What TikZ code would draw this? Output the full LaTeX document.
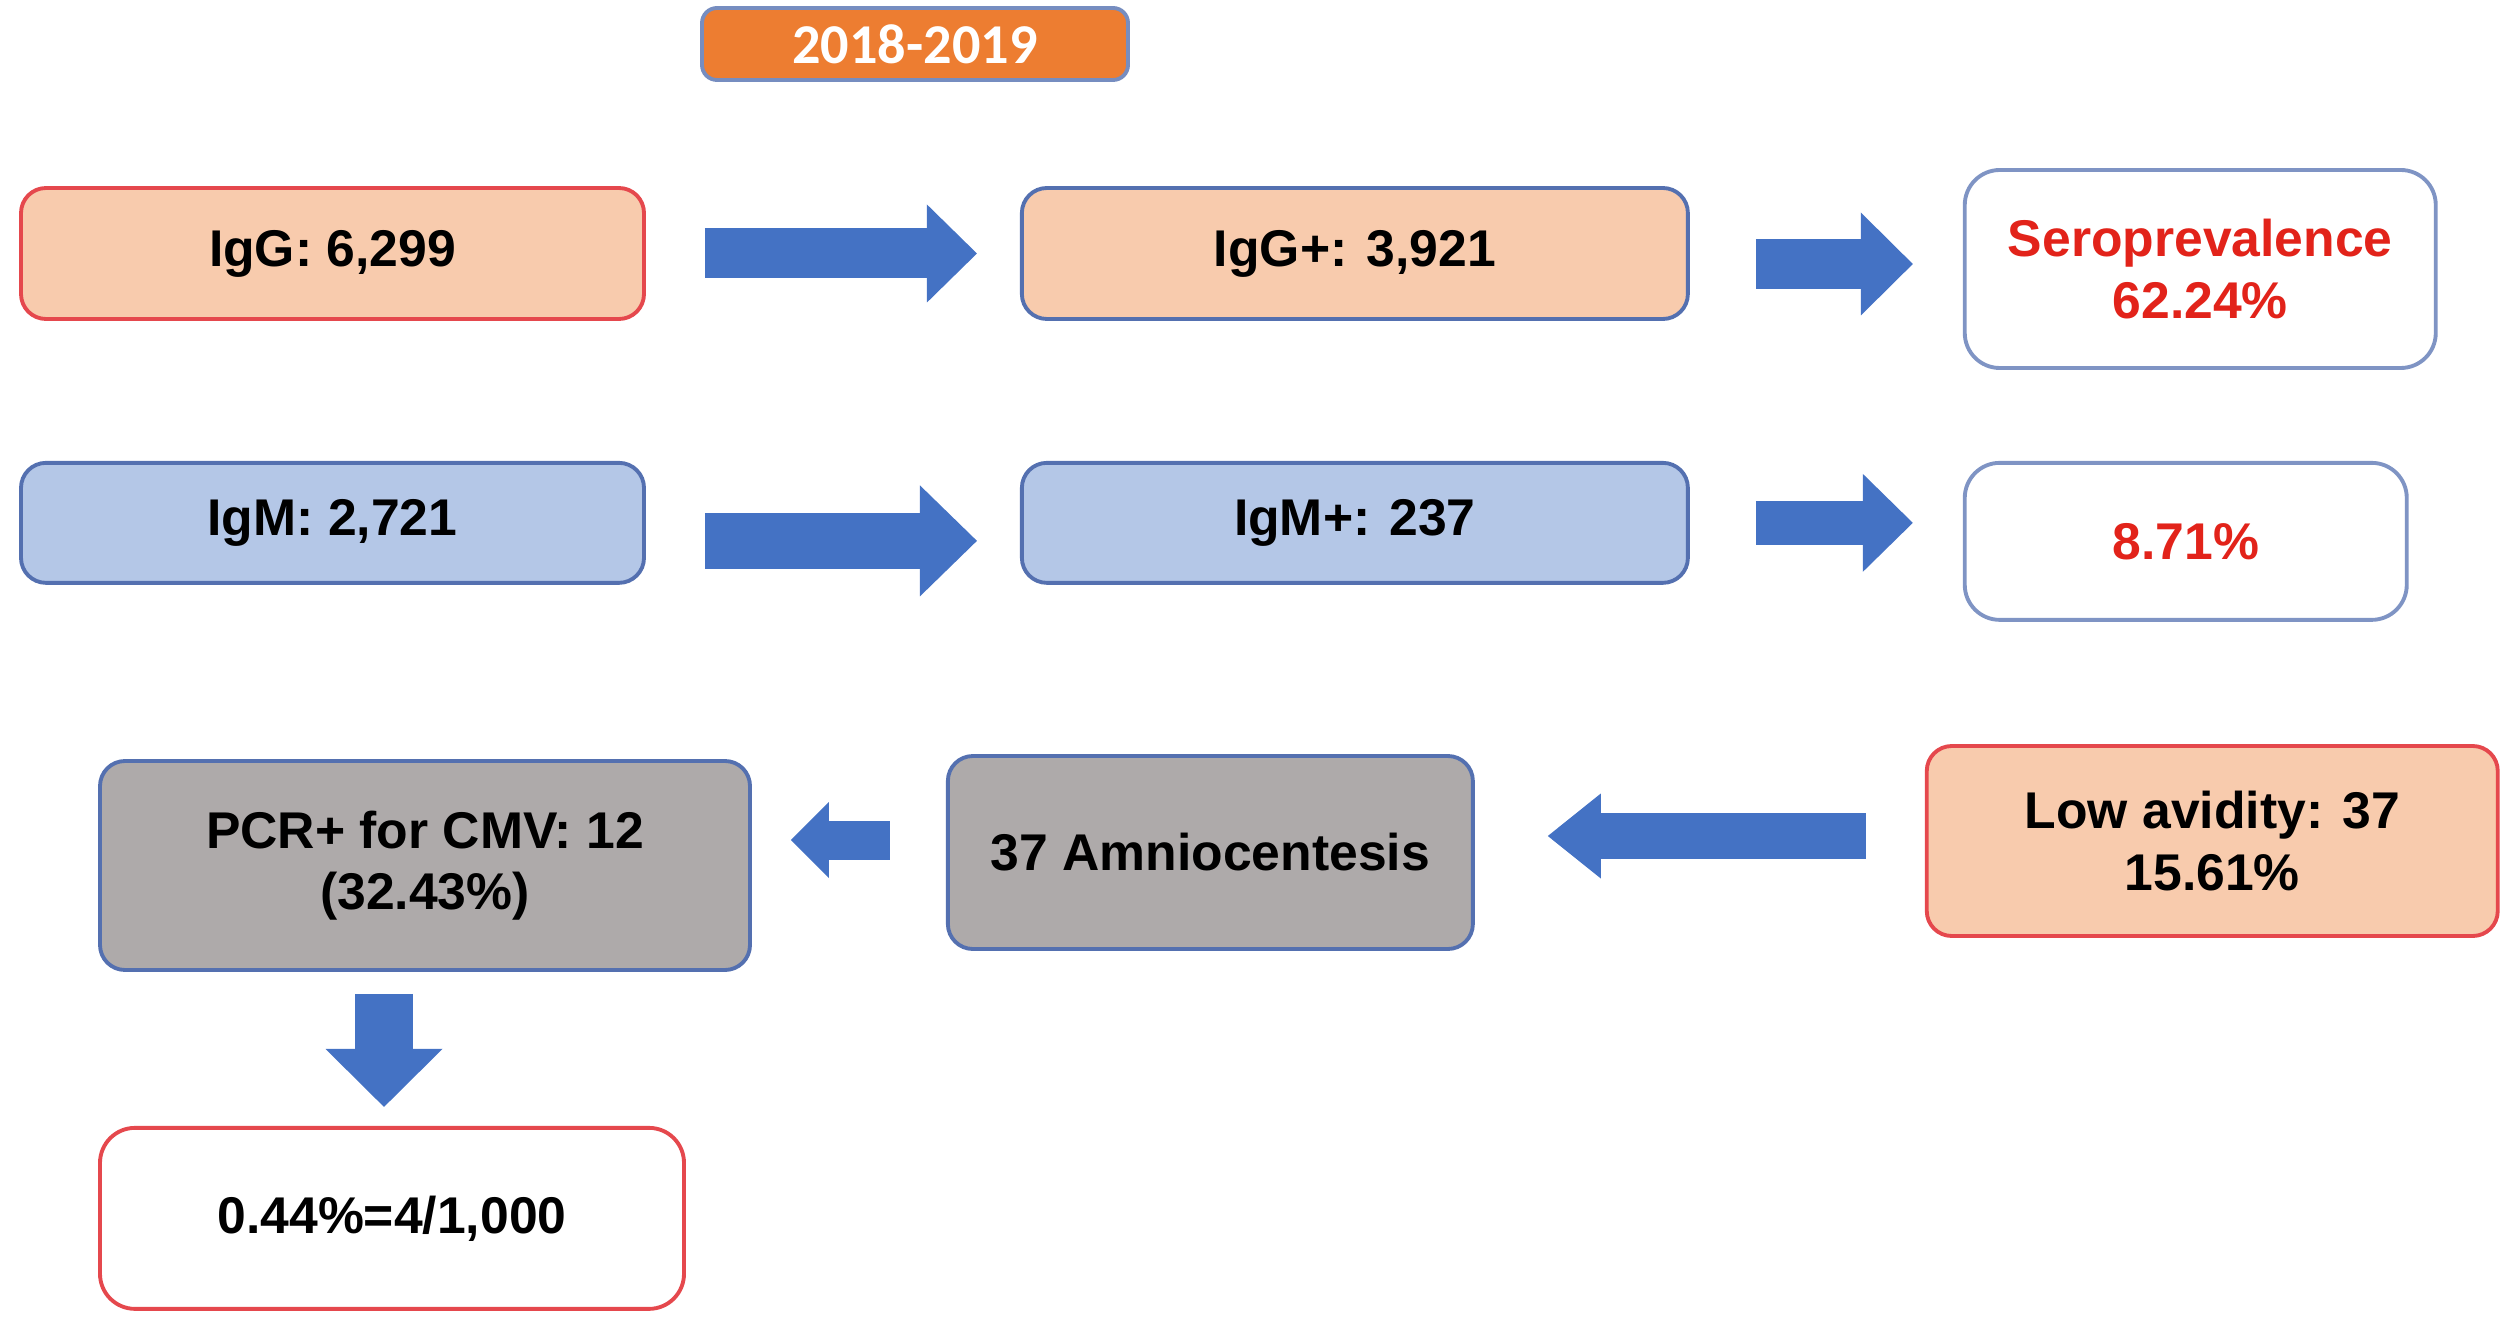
\documentclass[tikz,border=0pt]{standalone}
\usepackage{fontspec}
\setmainfont{Liberation Sans}
\newfontfamily\yearfont{Carlito}
\usetikzlibrary{arrows.meta, positioning}
\usepackage{xcolor}
\definecolor{ArrowBlue}{RGB}{68,114,196}
\definecolor{YearOrange}{RGB}{237,125,49}
\definecolor{Peach}{RGB}{248,203,173}
\definecolor{Sky}{RGB}{180,199,231}
\definecolor{Stone}{RGB}{174,170,170}
\definecolor{EdgeRed}{RGB}{229,72,77}
\definecolor{EdgeBlue}{RGB}{84,112,176}
\definecolor{ValueRed}{RGB}{226,35,26}

\begin{document}
\begin{tikzpicture}[
          node distance=1.5cm,
          box/.style={rectangle, rounded corners=2.5mm, line width=1.1pt, inner sep=0pt, align=center, font=\fontsize{14.7}{17.4}\selectfont\bfseries},
          year/.style={box, rounded corners=1.5mm, fill=YearOrange, draw=EdgeBlue!80, text=white, minimum width=4.26cm, minimum height=0.72cm, font=\yearfont\fontsize{16}{18}\selectfont\bfseries},
          peachbox/.style={box, fill=Peach, draw=EdgeRed},
          skybox/.style={box, fill=Sky, draw=EdgeBlue},
          stonebox/.style={box, fill=Stone, draw=EdgeBlue},
          valuebox/.style={box, rounded corners=3.5mm, fill=white, draw=EdgeBlue!75, text=ValueRed},
          flow/.style n args={3}{draw=ArrowBlue, line width=#1, -{Triangle[length=#2, width=#3, line width=0pt]}}
        ]
          \useasboundingbox (0,0) rectangle (25.01,-13.23);
          \node (period) [year] at (9.15,-0.44) {2018-2019};
          % first row
          \node (igg) [peachbox, minimum width=6.23cm, minimum height=1.31cm] at (3.325,-2.535) {IgG: 6,299};
          \node (iggp) [peachbox, draw=EdgeBlue, minimum width=6.66cm, minimum height=1.31cm, right=3.74cm of igg] {IgG+: 3,921};
          \node (sero) [valuebox, minimum width=4.71cm, minimum height=1.98cm, right=2.73cm of iggp, yshift=-1.55mm] {Seroprevalence\\62.24\%};
          % second row
          \node (igm) [skybox, minimum width=6.23cm, minimum height=1.20cm, below=1.40cm of igg] {IgM: 2,721};
          \node (igmp) [skybox, minimum width=6.66cm, minimum height=1.20cm, right=3.74cm of igm] {IgM+: 237};
          \node (pos) [valuebox, minimum width=4.42cm, minimum height=1.57cm, right=2.73cm of igmp, yshift=-1.85mm] {8.71\%};
          % third row
          \node (pcr) [stonebox, minimum width=6.50cm, minimum height=2.09cm] at (4.25,-8.655) {PCR+ for CMV: 12\\(32.43\%)};
          \node (amnio) [stonebox, minimum width=5.25cm, minimum height=1.93cm, right=1.94cm of pcr, yshift=1.3mm] {37 Amniocentesis};
          \node (avid) [peachbox, minimum width=5.71cm, minimum height=1.90cm, right=4.50cm of amnio, yshift=1.15mm] {Low avidity: 37\\15.61\%};
          \node (rate) [valuebox, draw=EdgeRed, text=black, minimum width=5.84cm, minimum height=1.81cm, below=1.54cm of pcr, xshift=-3.3mm] {0.44\%=4/1,000};

          \draw [flow={5mm}{5mm}{9.8mm}, shorten <=5.9mm, shorten >=4.3mm] (igg.east) -- (igg.east -| iggp.west);
          \draw [flow={5mm}{5.2mm}{10.3mm}, shorten <=6.6mm, shorten >=5mm] ([yshift=-1.05mm]iggp.east) -- ([yshift=-1.05mm]iggp.east -| sero.west);
          \draw [flow={5.6mm}{5.7mm}{11.1mm}, shorten <=5.9mm, shorten >=4.3mm] ([yshift=-1.8mm]igm.east) -- ([yshift=-1.8mm]igm.east -| igmp.west);
          \draw [flow={4.4mm}{5mm}{9.8mm}, shorten <=6.6mm, shorten >=5mm] (igmp.east) -- (igmp.east -| pos.west);
          \draw [flow={4.6mm}{5.3mm}{8.5mm}, shorten <=5.9mm, shorten >=7.3mm] ([yshift=0.5mm]avid.west) -- ([yshift=0.5mm]avid.west -| amnio.east);
          \draw [flow={3.9mm}{3.8mm}{7.6mm}, shorten <=5.6mm, shorten >=3.9mm] ([yshift=1.25mm]amnio.west) -- ([yshift=1.25mm]amnio.west -| pcr.east);
          \draw [flow={5.8mm}{5.8mm}{11.7mm}, shorten <=2.2mm, shorten >=1.9mm] ([xshift=-0.8mm]rate.north |- pcr.south) -- ([xshift=-0.8mm]rate.north);
        \end{tikzpicture}
\end{document}
